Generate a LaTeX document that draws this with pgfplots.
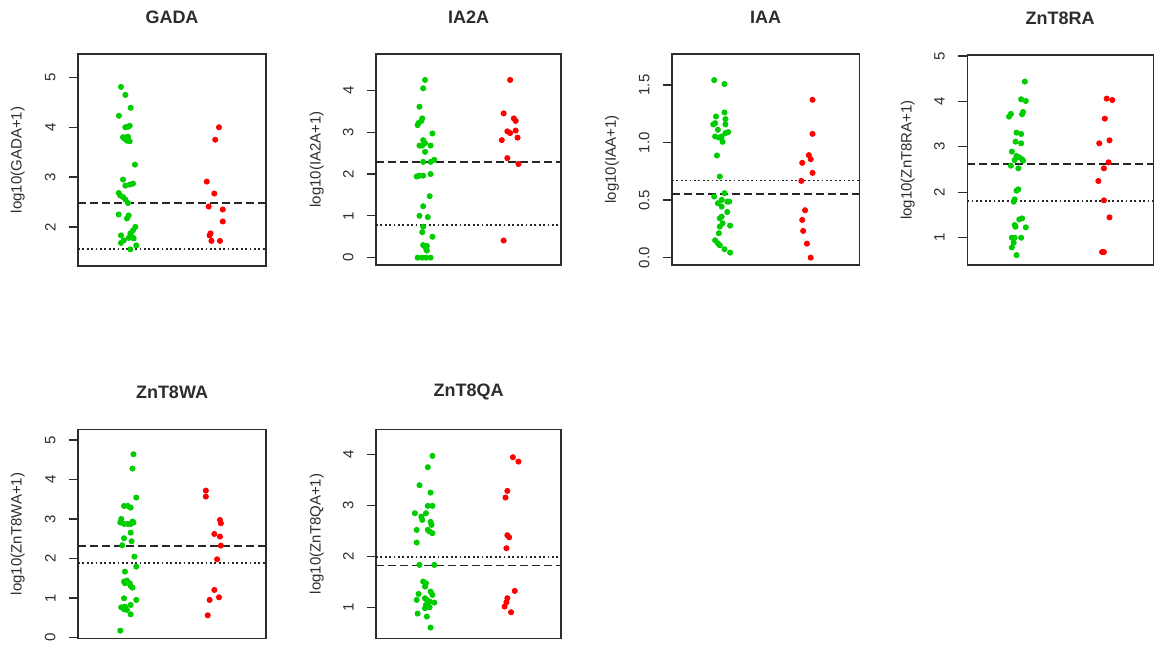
\documentclass[border=0pt]{standalone}
\usepackage{fontspec}
\setmainfont{Liberation Sans}
\usepackage{pgfplots}
\pgfplotsset{compat=1.18}
\definecolor{grn}{RGB}{0,205,0}
\definecolor{rd}{RGB}{255,0,0}
\definecolor{frm}{RGB}{45,45,45}
\pgfplotsset{
  panel/.style={
    scale only axis, anchor=north west,
    xmin=0.5, xmax=2.5, xtick=\empty,
    axis line style={draw=frm, line width=0.65pt},
    ytick pos=left, tick align=outside, major tick length=4.7pt,
    every tick/.style={draw=frm, line width=0.65pt},
    tick label style={font=\fontsize{7.5}{8}\selectfont, text=frm},
    yticklabel style={xshift=-3pt, rotate=90, anchor=south},
    /pgf/number format/assume math mode=true,
    every axis y label/.style={at={(axis description cs:-0.32,0.5)}, rotate=90, anchor=center, font=\fontsize{7.5}{8}\selectfont, text=frm},
    title style={at={(axis description cs:0.5,1)}, anchor=center, yshift=12.5pt, font=\fontsize{9}{10}\selectfont\bfseries, text=frm},
  },
  gpts/.style={only marks, mark=*, mark size=1.3pt, color=grn},
  rpts/.style={only marks, mark=*, mark size=1.3pt, color=rd},
  dashline/.style={draw=black!85, line width=0.9pt, dash pattern=on 4pt off 2pt},
  dotline/.style={draw=black!85, line width=0.9pt, dash pattern=on 0.9pt off 1.3pt},
}
\begin{document}
\begin{tikzpicture}
\path (0,0) rectangle (577.5pt,-323pt);
% GADA
\begin{axis}[panel, at={(39pt,-27pt)}, width=94pt, height=106pt, ymin=1.216, ymax=5.47, ytick={2,3,4,5}, title={GADA}, ylabel={log10(GADA+1)}]
\addplot[gpts] coordinates {(0.957,4.81) (1.004,4.65) (1.06,4.39) (0.936,4.23) (1.004,4.0) (1.05,4.03) (1.032,4.01) (0.979,3.8) (1.014,3.8) (1.032,3.81) (1.021,3.73) (1.05,3.72) (0.996,3.77) (1.106,3.25) (0.979,2.95) (1.004,2.83) (1.05,2.85) (1.085,2.87) (0.933,2.68) (0.95,2.63) (0.979,2.6) (1.004,2.55) (1.032,2.48) (0.933,2.25) (1.039,2.23) (1.021,2.17) (1.11,2.0) (1.085,1.93) (1.057,1.87) (0.957,1.83) (1.075,1.8) (1.039,1.78) (0.986,1.73) (1.092,1.77) (1.12,1.63) (1.057,1.55) (0.957,1.68)};
\addplot[rpts] coordinates {(2.0,4.0) (1.96,3.75) (1.87,2.91) (1.95,2.67) (1.89,2.41) (2.04,2.35) (2.04,2.11) (1.90,1.83) (1.91,1.87) (1.92,1.72) (2.01,1.72)};
\addplot[dashline] coordinates {(0.5,2.482) (2.5,2.482)};
\addplot[dotline] coordinates {(0.5,1.558) (2.5,1.558)};
\end{axis}
% IA2A
\begin{axis}[panel, at={(188pt,-27pt)}, width=92.5pt, height=105.5pt, ymin=-0.176, ymax=4.87, ytick={0,1,2,3,4}, title={IA2A}, ylabel={log10(IA2A+1)}]
\addplot[gpts] coordinates {(1.03,4.25) (1.01,4.05) (0.97,3.61) (1.0,3.33) (0.99,3.27) (0.96,3.22) (0.95,3.17) (1.11,2.97) (1.01,2.81) (1.03,2.74) (0.97,2.68) (1.0,2.68) (1.09,2.68) (1.03,2.53) (1.01,2.29) (1.09,2.29) (1.13,2.34) (0.94,1.94) (0.97,1.96) (1.01,1.96) (1.09,2.0) (1.08,1.47) (1.01,1.23) (0.97,1.0) (1.06,0.97) (1.01,0.74) (1.0,0.61) (1.11,0.5) (1.01,0.3) (1.05,0.28) (1.04,0.22) (1.05,0.17) (0.95,0) (1.0,0) (1.04,0) (1.09,0)};
\addplot[rpts] coordinates {(1.95,4.25) (1.88,3.45) (1.99,3.33) (2.01,3.27) (1.92,3.02) (1.95,2.98) (2.01,3.04) (2.03,2.87) (1.86,2.81) (1.92,2.38) (2.04,2.24) (1.88,0.41)};
\addplot[dashline] coordinates {(0.5,2.29) (2.5,2.29)};
\addplot[dotline] coordinates {(0.5,0.775) (2.5,0.775)};
\end{axis}
% IAA
\begin{axis}[panel, at={(336pt,-27pt)}, width=93.7pt, height=105.5pt, ymin=-0.064, ymax=1.77, ytick={0,0.5,1,1.5}, yticklabels={0.0,0.5,1.0,1.5}, title={IAA}, ylabel={log10(IAA+1)}]
\addplot[gpts] coordinates {(0.95,1.543) (1.06,1.509) (1.06,1.262) (0.97,1.227) (1.07,1.204) (0.94,1.158) (0.96,1.169) (1.07,1.158) (0.99,1.111) (1.10,1.091) (1.07,1.082) (0.96,1.053) (1.0,1.044) (1.03,1.053) (1.04,1.007) (0.98,0.888) (1.01,0.705) (0.95,0.531) (1.06,0.56) (1.03,0.502) (1.09,0.487) (1.11,0.487) (0.99,0.473) (1.03,0.444) (1.09,0.397) (1.03,0.357) (1.01,0.342) (1.04,0.299) (1.01,0.27) (1.0,0.212) (1.12,0.278) (0.96,0.151) (0.99,0.125) (1.01,0.107) (1.06,0.073) (1.12,0.044)};
\addplot[rpts] coordinates {(2.0,1.372) (2.0,1.076) (1.96,0.891) (1.98,0.856) (1.89,0.824) (2.0,0.737) (1.88,0.667) (1.92,0.412) (1.89,0.328) (1.90,0.232) (1.94,0.122) (1.98,0.0)};
\addplot[dotline] coordinates {(0.5,0.67) (2.5,0.67)};
\addplot[dashline] coordinates {(0.5,0.554) (2.5,0.554)};
\end{axis}
% ZnT8RA
\begin{axis}[panel, at={(483.6pt,-27.5pt)}, width=93pt, height=105pt, ymin=0.4, ymax=5.02, ytick={1,2,3,4,5}, title={ZnT8RA}, ylabel={log10(ZnT8RA+1)}]
\addplot[gpts] coordinates {(1.12,4.435) (1.08,4.046) (1.13,4.009) (1.10,3.767) (1.09,3.716) (0.97,3.723) (0.95,3.664) (1.03,3.312) (1.08,3.283) (1.02,3.114) (1.08,3.077) (0.98,2.894) (1.03,2.798) (1.06,2.769) (1.09,2.725) (1.01,2.71) (1.10,2.695) (0.97,2.585) (1.05,2.527) (1.05,2.064) (1.03,2.035) (1.01,1.844) (1.0,1.793) (1.06,1.404) (1.09,1.426) (1.01,1.279) (1.02,1.242) (1.13,1.228) (0.98,1.0) (1.01,1.0) (1.08,1.0) (1.0,0.89) (0.98,0.787) (1.03,0.618)};
\addplot[rpts] coordinates {(2.0,4.06) (2.06,4.03) (1.98,3.62) (2.03,3.143) (1.92,3.077) (2.02,2.659) (1.97,2.527) (1.91,2.248) (1.97,1.822) (2.03,1.448) (1.95,0.684) (1.97,0.684)};
\addplot[dashline] coordinates {(0.5,2.63) (2.5,2.63)};
\addplot[dotline] coordinates {(0.5,1.81) (2.5,1.81)};
\end{axis}
% ZnT8WA
\begin{axis}[panel, at={(39pt,-214.6pt)}, width=94pt, height=104.7pt, ymin=-0.025, ymax=5.27, ytick={0,1,2,3,4,5}, title={ZnT8WA}, ylabel={log10(ZnT8WA+1)}]
\addplot[gpts] coordinates {(1.09,4.637) (1.08,4.275) (1.12,3.541) (0.99,3.33) (1.03,3.33) (1.06,3.288) (0.96,3.0) (0.95,2.91) (0.99,2.875) (1.03,2.875) (1.08,2.934) (1.06,2.875) (1.09,2.91) (1.06,2.656) (0.99,2.513) (1.07,2.437) (0.97,2.336) (1.10,2.049) (1.12,1.796) (1.0,1.669) (0.99,1.417) (1.02,1.442) (1.0,1.374) (1.05,1.374) (1.06,1.307) (1.08,1.265) (0.99,0.995) (1.12,0.953) (0.96,0.767) (0.99,0.717) (1.0,0.784) (1.02,0.7) (1.06,0.826) (1.06,0.59) (0.95,0.177)};
\addplot[rpts] coordinates {(1.86,3.718) (1.86,3.567) (2.01,2.976) (2.02,2.892) (1.95,2.622) (2.01,2.555) (2.02,2.327) (1.98,1.981) (1.95,1.206) (2.0,1.02) (1.90,0.953) (1.88,0.565)};
\addplot[dashline] coordinates {(0.5,2.327) (2.5,2.327)};
\addplot[dotline] coordinates {(0.5,1.897) (2.5,1.897)};
\end{axis}
% ZnT8QA
\begin{axis}[panel, at={(188pt,-214.6pt)}, width=92.5pt, height=104.7pt, ymin=0.393, ymax=4.49, ytick={1,2,3,4}, title={ZnT8QA}, ylabel={log10(ZnT8QA+1)}]
\addplot[gpts] coordinates {(1.11,3.968) (1.06,3.746) (0.97,3.394) (1.09,3.25) (1.06,2.99) (1.11,2.99) (0.92,2.846) (1.04,2.846) (0.99,2.78) (1.0,2.716) (1.09,2.676) (1.10,2.618) (0.94,2.52) (1.06,2.52) (1.08,2.487) (1.11,2.455) (0.94,2.272) (0.97,1.835) (1.13,1.835) (1.01,1.509) (1.04,1.476) (1.03,1.411) (0.96,1.267) (1.09,1.313) (1.11,1.248) (0.94,1.15) (1.03,1.183) (1.05,1.15) (1.08,1.117) (1.13,1.098) (1.04,1.052) (1.06,1.02) (1.03,0.987) (1.08,1.007) (0.95,0.883) (1.05,0.824) (1.09,0.609)};
\addplot[rpts] coordinates {(1.98,3.942) (2.04,3.857) (1.92,3.283) (1.90,3.153) (1.92,2.416) (1.94,2.376) (1.91,2.161) (2.0,1.326) (1.92,1.183) (1.91,1.104) (1.89,1.02) (1.96,0.909)};
\addplot[dotline] coordinates {(0.5,1.985) (2.5,1.985)};
\addplot[dashline] coordinates {(0.5,1.822) (2.5,1.822)};
\end{axis}
\end{tikzpicture}
\end{document}
